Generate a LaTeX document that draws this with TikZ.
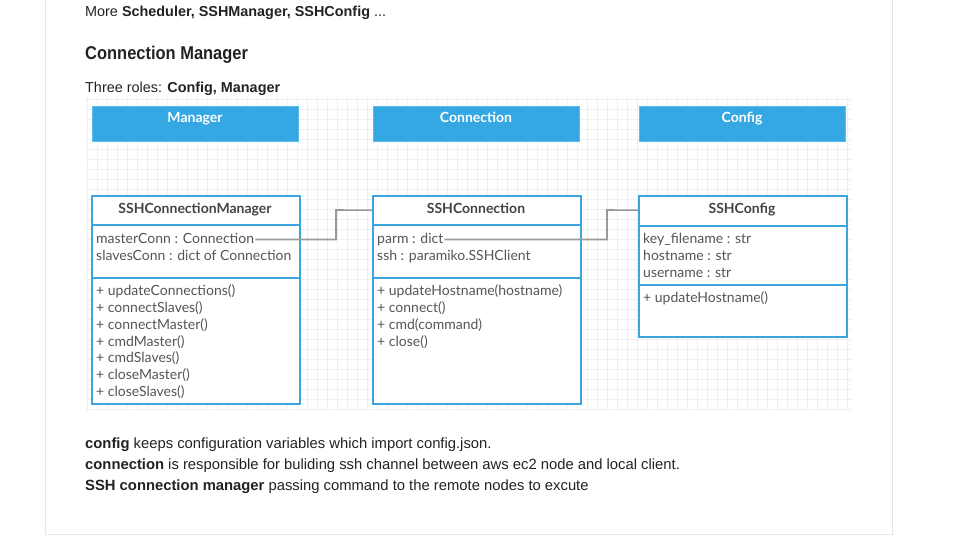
\documentclass[tikz,border=0pt]{standalone}
\usepackage{fontspec}
\setmainfont{Liberation Sans}
\newfontfamily\lato{Lato}
\newfontfamily\headfont[FakeStretch=0.89]{Liberation Sans}
\definecolor{hdrblue}{HTML}{35A7E2}
\definecolor{boxblue}{HTML}{3BA5E0}
\definecolor{gridc}{HTML}{EFEFEF}
\definecolor{cardc}{HTML}{E6E6E6}
\definecolor{txtc}{HTML}{222222}
\definecolor{attrc}{HTML}{555555}
\definecolor{connc}{HTML}{999999}
\tikzset{
  pagetxt/.style={anchor=base west, inner sep=0pt, font=\fontsize{14.4}{17}\selectfont, text=txtc},
  bottxt/.style={anchor=base west, inner sep=0pt, font=\fontsize{14.8}{17}\selectfont, text=txtc},
  rolebox/.style={anchor=north west, fill=hdrblue, draw=hdrblue!80!white, line width=0.6pt, minimum width=206pt, minimum height=35pt, inner sep=0pt},
  roletxt/.style={anchor=base, inner sep=0pt, text=white, font=\lato\bfseries\fontsize{14}{16}\selectfont},
  classbox/.style={anchor=north west, draw=boxblue, line width=1.8pt, fill=white, minimum width=208pt, inner sep=0pt},
  classhead/.style={anchor=north west, minimum width=208pt, minimum height=30pt, inner sep=0pt},
  headtxt/.style={anchor=base, inner sep=0pt, text=attrc!80!black, font=\lato\bfseries\fontsize{14}{16}\selectfont},
  membtxt/.style={anchor=base west, inner sep=0pt, text height=10pt, text depth=3pt, text=attrc, font=\lato\fontsize{14}{16}\selectfont},
  divider/.style={draw=boxblue, line width=1.8pt},
  conn/.style={draw=connc, line width=1.6pt},
}
\begin{document}
\begin{tikzpicture}[x=1pt,y=-1pt]
\useasboundingbox (0,0) rectangle (974,550);
% card
\draw[cardc, line width=1pt] (45,0) -- (45,534) -- (892,534) -- (892,0);
% grid
\foreach \gx in {87,97,...,847} \draw[gridc, line width=0.6pt] (\gx,97) -- (\gx,411);
\foreach \gy in {99,109,...,409} \draw[gridc, line width=0.6pt] (85,\gy) -- (852,\gy);
% page text
\node[pagetxt] (more) at (85,16) {More \textbf{Scheduler, SSHManager, SSHConfig} ...};
\node[pagetxt, font=\headfont\bfseries\fontsize{18.5}{21}\selectfont] (h2) at (85,59) {Connection Manager};
\node[pagetxt] (roles) at (85,92) {Three roles: \textbf{Config, Manager}};
% role boxes
\node[rolebox] (rmgr) at (92,106) {};
\node[roletxt] (rmgrt) at (195,122) {Manager};
\node[rolebox] (rcon) at (373,106) {};
\node[roletxt] (rcont) at (476,122) {Connection};
\node[rolebox] (rcfg) at (639,106) {};
\node[roletxt] (rcfgt) at (742,122) {Config};
% class boxes
\node[classbox, minimum height=208pt] (mgr) at (91,195) {};
\node[classhead] (mgrh) at (91,195) {};
\draw[divider] (91,225) -- (299,225);
\draw[divider] (91,278) -- (299,278);
\node[headtxt] (mgrn) at (195,213) {SSHConnectionManager};
\node[membtxt] (ma1) at (96,243) {masterConn : Connection};
\node[membtxt] (ma2) at (96,260) {slavesConn : dict of Connection};
\node[membtxt] (mm1) at (96,295) {+ updateConnections()};
\node[membtxt] (mm2) at (96,312) {+ connectSlaves()};
\node[membtxt] (mm3) at (96,329) {+ connectMaster()};
\node[membtxt] (mm4) at (96,346) {+ cmdMaster()};
\node[membtxt] (mm5) at (96,362) {+ cmdSlaves()};
\node[membtxt] (mm6) at (96,379) {+ closeMaster()};
\node[membtxt] (mm7) at (96,396) {+ closeSlaves()};

\node[classbox, minimum height=208pt] (con) at (372,195) {};
\node[classhead] (conh) at (372,195) {};
\draw[divider] (372,225) -- (580,225);
\draw[divider] (372,278) -- (580,278);
\node[headtxt] (conn) at (476,213) {SSHConnection};
\node[membtxt] (ca1) at (377,243) {parm : dict};
\node[membtxt] (ca2) at (377,260) {ssh : paramiko.SSHClient};
\node[membtxt] (cm1) at (377,295) {+ updateHostname(hostname)};
\node[membtxt] (cm2) at (377,312) {+ connect()};
\node[membtxt] (cm3) at (377,329) {+ cmd(command)};
\node[membtxt] (cm4) at (377,346) {+ close()};

\node[classbox, minimum height=141pt] (cfg) at (638,195) {};
\node[classhead] (cfgh) at (638,195) {};
\draw[divider] (638,226) -- (846,226);
\draw[divider] (638,285) -- (846,285);
\node[headtxt] (cfgn) at (742,213) {SSHConfig};
\node[membtxt] (fa1) at (643,243) {key\_filename : str};
\node[membtxt] (fa2) at (643,260) {hostname : str};
\node[membtxt] (fa3) at (643,277) {username : str};
\node[membtxt] (fm1) at (643,302) {+ updateHostname()};
% connectors
\coordinate (k1) at (336,210);
\coordinate (k2) at (607,210);
\draw[conn] ([xshift=1pt]ma1.east) -| (k1) -- (conh.west);
\draw[conn] ([xshift=1pt]ca1.east) -| (k2) -- (cfgh.west);
% bottom text
\node[bottxt] (b1) at (85,448) {\textbf{config} keeps configuration variables which import config.json.};
\node[bottxt] (b2) at (85,469) {\textbf{connection} is responsible for buliding ssh channel between aws ec2 node and local client.};
\node[bottxt] (b3) at (85,490) {\textbf{SSH connection manager} passing command to the remote nodes to excute};
\end{tikzpicture}
\end{document}
